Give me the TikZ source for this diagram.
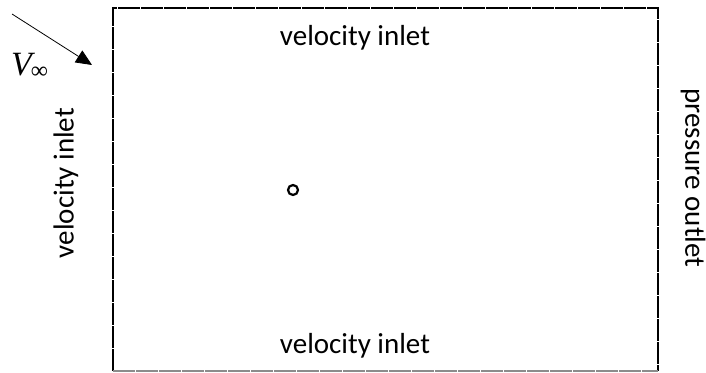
\documentclass[tikz,border=0pt]{standalone}
\usepackage{fontspec}
\setmainfont{Carlito}
\newfontfamily\tnr{Liberation Serif}
\usetikzlibrary{arrows.meta}
\begin{document}
\begin{tikzpicture}[x=1pt,y=-1pt,
  lbl/.style={font=\fontsize{29}{34}\selectfont, inner sep=0pt},
  bound/.style={line width=1.3pt, dash pattern=on 22pt off 1pt}]
\useasboundingbox (0,0) rectangle (706,372);
\draw[bound] (113,371) -- (113,8) -- (658,8) -- (658,371);
\draw[bound, black!45] (113,371) -- (658,371);
\node[draw, circle, line width=2.2pt, minimum size=10pt, inner sep=0pt] (cyl) at (293,190) {};
\coordinate (a0) at (12,14);
\coordinate (a1) at (92,65);
\draw[line width=0.8pt, -{Triangle[length=16pt,width=14pt]}] (a0) -- (a1);
\node[inner sep=0pt, anchor=base west, font=\tnr] (vinf) at (11,75) {\fontsize{34}{40}\selectfont\itshape V\hspace{-1pt}\fontsize{24}{28}\selectfont\upshape\raisebox{-3pt}{∞}};
\node[lbl] (top) at (355,38) {velocity inlet};
\node[lbl] (bot) at (355,346) {velocity inlet};
\node[lbl, rotate=90] (left) at (66,183) {velocity inlet};
\node[lbl, rotate=-90] (right) at (693,178) {pressure outlet};
\end{tikzpicture}
\end{document}
